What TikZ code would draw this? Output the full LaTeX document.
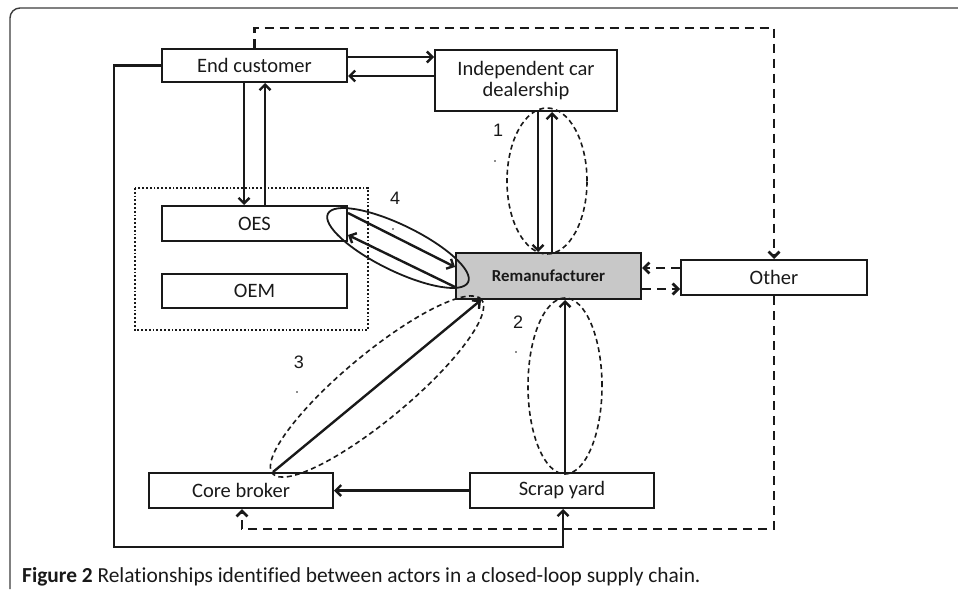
\documentclass[tikz,border=0pt]{standalone}
\usepackage{fontspec}
\setmainfont{Carlito}[Ligatures=NoCommon]
\newfontfamily\arialf{Liberation Sans}
\usetikzlibrary{arrows.meta}
\definecolor{remgray}{RGB}{200,200,200}
\definecolor{ink}{RGB}{25,25,25}
\tikzset{
  box/.style={draw=ink, line width=2pt, rectangle, inner sep=0pt, font=\fontsize{20.5}{22}\selectfont, text=ink, align=center},
  arr/.style={draw=ink, line width=2.4pt, -{Straight Barb[length=5.5pt,width=11pt]}},
  darr/.style={draw=ink, line width=2.7pt, dash pattern=on 9pt off 6pt, -{Straight Barb[length=5.5pt,width=11pt]}},
  ell/.style={draw=ink, line width=1.6pt, dash pattern=on 5pt off 3.5pt},
  num/.style={font=\arialf\fontsize{18}{20}\selectfont, text=ink, inner sep=0pt},
  dotmark/.style={fill=ink, circle, inner sep=0pt, minimum size=1.8pt}
}
\begin{document}
\begin{tikzpicture}[x=1pt,y=-1pt]
\useasboundingbox (0,0) rectangle (958,589);
% outer frame
\draw[line width=1.4pt, draw=ink!85, rounded corners=10pt] (10,589) -- (10,8) -- (958,8);
% dotted group box
\draw[line width=1.8pt, draw=ink, dotted] (135,188) rectangle (368,330);
% nodes
\node[box, minimum width=185pt, minimum height=33pt] (ec) at (254.5,65.5) {End customer};
\node[box, minimum width=182pt, minimum height=61pt] (dealer) at (526,80.5) {Independent car\\[-1pt]dealership};
\node[box, minimum width=185pt, minimum height=35pt] (oes) at (254.5,223.5) {OES};
\node[box, minimum width=185pt, minimum height=34pt] (oem) at (254.5,291) {OEM};
\node[box, fill=remgray, minimum width=185pt, minimum height=46pt, font=\bfseries\fontsize{16.8}{18}\selectfont] (reman) at (548.5,276) {Remanufacturer};
\node[box, minimum width=186pt, minimum height=35pt] (other) at (774,277.5) {Other};
\node[box, minimum width=184pt, minimum height=35pt] (core) at (241,490.5) {Core broker};
\node[box, minimum width=184pt, minimum height=35pt] (scrap) at (562,490.5) {Scrap yard};
\coordinate (tr) at (774,28);
\coordinate (br) at (774,529);
\coordinate (lc) at (114,547);
% ellipses
\draw[ell] (547,181) circle[x radius=40pt, y radius=73pt];
\draw[ell] (565,386) circle[x radius=37pt, y radius=88pt];
\draw[ell] (377,386.5) circle[x radius=136pt, y radius=33pt, rotate=39.75];
\draw[draw=ink, line width=1.8pt] (398,248) circle[x radius=78pt, y radius=23pt, rotate=-26];
% labels
\node[num] (n1) at (498,130) {1};
\node[dotmark] (d1) at (495,161) {};
\node[num] (n2) at (518,322) {2};
\node[dotmark] (d2) at (516,352) {};
\node[num] (n3) at (299,362) {3};
\node[dotmark] (d3) at (297,392) {};
\node[num] (n4) at (395,198) {4};
\node[dotmark] (d4) at (393,229) {};
% solid arrows
\draw[arr] ([yshift=8.5pt]ec.east) -- ([yshift=23.5pt]dealer.west);
\draw[arr] ([yshift=4.5pt]dealer.west) -- ([yshift=-10.5pt]ec.east);
\draw[arr] ([xshift=-10.5pt]ec.south) -- ([xshift=-10.5pt]oes.north);
\draw[arr] ([xshift=10.5pt]oes.north) -- ([xshift=10.5pt]ec.south);
\draw[arr] ([xshift=12pt]dealer.south) -- ([xshift=-10.5pt]reman.north);
\draw[arr] ([xshift=3.5pt]reman.north) -- ([xshift=26pt]dealer.south);
\draw[arr] ([yshift=10.5pt]oes.east) -- ([yshift=9pt]reman.west);
\draw[arr] ([yshift=-11pt]reman.west) -- ([yshift=-11.5pt]oes.east);
\draw[arr] ([xshift=3pt]scrap.north) -- ([xshift=16.5pt]reman.south);
\draw[arr] ([xshift=32pt]core.north) -- ([xshift=-67.5pt]reman.south);
\draw[arr] (scrap.west) -- (core.east);
\draw[arr] (ec.west) -| (lc) -| ([xshift=1pt]scrap.south);
% dashed arrows
\draw[darr] ([yshift=9.5pt]other.west) -- ([yshift=8pt]reman.east);
\draw[darr] ([yshift=-13pt]reman.east) -- ([yshift=-11.5pt]other.west);
\draw[darr] (ec.north) |- (tr) -- (other.north);
\draw[darr] (other.south) -- (br) -| ([xshift=1pt]core.south);
% caption
\node[anchor=base west, inner sep=0pt, text=ink, font=\fontsize{21.4}{23}\selectfont] (cap) at (22,582) {\textbf{Figure 2} Relationships identified between actors in a closed-loop supply chain.};
\end{tikzpicture}
\end{document}
